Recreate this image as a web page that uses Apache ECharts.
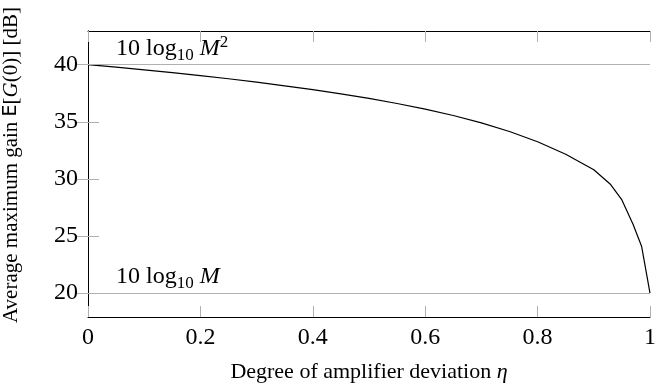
<!DOCTYPE html>
<html>
<head>
<meta charset="utf-8" />
<title>Average maximum gain</title>
<script src="https://cdn.jsdelivr.net/npm/echarts@6/dist/echarts.min.js"></script>
</head>
<body style="margin:0">
<div id="main" style="width:665px;height:383px;"></div>
<script type="text/javascript">
// degree of amplifier deviation (eta) and average maximum gain in dB
const etaValues = [0, 0.05, 0.1, 0.15, 0.2, 0.25, 0.3, 0.35, 0.4, 0.45, 0.5, 0.55, 0.6,
    0.65, 0.7, 0.75, 0.8, 0.85, 0.9, 0.93, 0.95, 0.97, 0.985, 1];
const gainValues = [40.0, 39.78, 39.55, 39.3, 39.04, 38.77, 38.47, 38.15, 37.81, 37.44, 37.05, 36.6, 36.1,
    35.55, 34.9, 34.15, 33.25, 32.15, 30.8, 29.5, 28.15, 26.0, 24.1, 20.0];
// reference levels 10log10 M^2 and 10log10 M
const refLevels = [40, 20];
const yTicks = [20, 25, 30, 35, 40];

const serif = '"Liberation Serif", "DejaVu Serif", serif';
const tickGray = '#b0b0b0';

const points = [];
for (let i = 0; i < etaValues.length; i++) {
    points.push([etaValues[i], gainValues[i]]);
}

const refRich = {
    n: {fontFamily: serif, fontSize: 24, color: '#000'},
    s: {fontFamily: serif, fontSize: 17, color: '#000', padding: [13, 0, 0, 0]},
    i: {fontFamily: serif, fontSize: 24, fontStyle: 'italic', color: '#000'},
    p: {fontFamily: serif, fontSize: 17, color: '#000', padding: [0, 0, 13, 0]}
};

const chart = echarts.init(document.getElementById('main'));
const option = {
    animation: false,
    grid: {left: 88, right: 15, top: 31, bottom: 66, outerBoundsMode: 'none'},
    xAxis: [{
        type: 'value',
        min: 0,
        max: 1,
        interval: 0.2,
        name: 'Degree of amplifier deviation {i|η}',
        nameLocation: 'middle',
        nameGap: 44,
        nameTextStyle: {
            fontFamily: serif, fontSize: 22, color: '#000',
            rich: {i: {fontFamily: serif, fontSize: 22, fontStyle: 'italic', color: '#000'}}
        },
        axisLine: {show: true, lineStyle: {color: '#000', width: 1}},
        axisTick: {inside: true, length: 11, lineStyle: {color: tickGray}},
        axisLabel: {fontFamily: serif, fontSize: 24, color: '#000', margin: 9},
        splitLine: {show: false}
    }, {
        type: 'value',
        position: 'top',
        min: 0,
        max: 1,
        interval: 0.2,
        axisLine: {show: true, lineStyle: {color: '#000', width: 1}},
        axisTick: {inside: true, length: 11, lineStyle: {color: tickGray}},
        axisLabel: {show: false},
        splitLine: {show: false}
    }],
    yAxis: [{
        type: 'value',
        min: 17.9,
        max: 42.95,
        name: 'Average maximum gain {e|E}[{i|G}(0)] [dB]',
        nameLocation: 'middle',
        nameGap: 66,
        nameTextStyle: {
            fontFamily: serif, fontSize: 21, color: '#000',
            padding: [0, 0, 0, 18],
            rich: {
                e: {fontFamily: '"DejaVu Sans", sans-serif', fontSize: 19, color: '#000'},
                i: {fontFamily: serif, fontSize: 21, fontStyle: 'italic', color: '#000'}
            }
        },
        axisLine: {show: true, lineStyle: {color: '#000', width: 1}},
        axisTick: {inside: true, length: 11, lineStyle: {color: tickGray}, customValues: yTicks},
        axisLabel: {fontFamily: serif, fontSize: 24, color: '#000', margin: 10, customValues: yTicks},
        splitLine: {show: false}
    }, {
        type: 'value',
        position: 'right',
        min: 17.9,
        max: 42.95,
        axisLine: {show: true, lineStyle: {color: '#000', width: 1}},
        axisTick: {inside: true, length: 11, lineStyle: {color: tickGray}, customValues: yTicks},
        axisLabel: {show: false},
        splitLine: {show: false}
    }],
    series: [{
        type: 'line',
        data: points,
        showSymbol: false,
        symbol: 'none',
        lineStyle: {color: '#000', width: 1.2},
        markLine: {
            silent: true,
            symbol: 'none',
            lineStyle: {color: tickGray, type: 'solid', width: 1},
            label: {position: 'insideStartTop', distance: [28, 1], rich: refRich},
            data: [
                {yAxis: refLevels[0], label: {formatter: '{n|10 log}{s|10}{n| }{i|M}{p|2}'}},
                {yAxis: refLevels[1], label: {formatter: '{n|10 log}{s|10}{n| }{i|M}'}}
            ]
        }
    }]
};
chart.setOption(option);
</script>
</body>
</html>
